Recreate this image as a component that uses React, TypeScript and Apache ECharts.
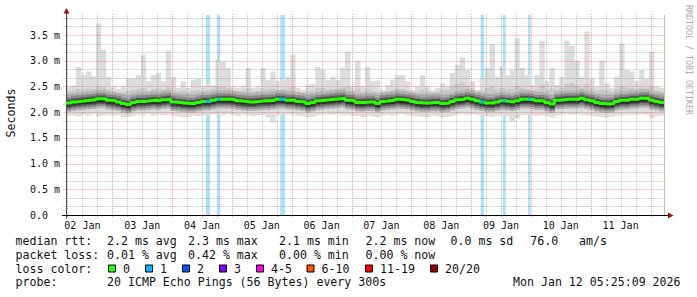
import React, { useEffect, useRef } from 'react';
import * as echarts from 'echarts';

// ---------- data (hours counted from 02 Jan 00:00) ----------
const START_HOUR = 5 + 25 / 60; // 02 Jan 05:25
const SPAN_HOURS = 240;
const BUCKET_HOURS = 2;
const Y_MAX = 3.89;

const medianMs = [
  2.18, 2.20, 2.21, 2.22, 2.23, 2.24, 2.26, 2.26, 2.23, 2.22,
  2.20, 2.17, 2.15, 2.19, 2.21, 2.21, 2.22, 2.23, 2.22, 2.24,
  2.25, 2.20, 2.19, 2.18, 2.17, 2.17, 2.19, 2.21, 2.21, 2.23,
  2.25, 2.25, 2.25, 2.24, 2.22, 2.21, 2.20, 2.20, 2.21, 2.22,
  2.22, 2.23, 2.25, 2.25, 2.23, 2.23, 2.21, 2.20, 2.17, 2.19,
  2.22, 2.23, 2.24, 2.25, 2.26, 2.27, 2.23, 2.22, 2.19, 2.19,
  2.20, 2.20, 2.17, 2.21, 2.22, 2.23, 2.25, 2.24, 2.23, 2.21,
  2.19, 2.18, 2.18, 2.19, 2.19, 2.17, 2.18, 2.21, 2.24, 2.25,
  2.27, 2.25, 2.22, 2.20, 2.18, 2.18, 2.20, 2.22, 2.21, 2.20,
  2.22, 2.25, 2.25, 2.24, 2.22, 2.22, 2.19, 2.16, 2.23, 2.24,
  2.25, 2.25, 2.25, 2.27, 2.24, 2.22, 2.19, 2.17, 2.16, 2.17,
  2.21, 2.23, 2.23, 2.25, 2.25, 2.27, 2.27, 2.23, 2.21, 2.19,
];

const maxMs = [
  2.50, 2.52, 2.88, 2.72, 2.79, 2.70, 3.73, 3.21, 2.69, 2.50,
  2.45, 2.50, 2.66, 2.66, 2.72, 3.12, 2.60, 2.72, 2.76, 2.60,
  3.20, 2.69, 2.47, 2.60, 2.47, 2.63, 2.66, 2.50, 2.56, 2.52,
  3.02, 2.98, 2.86, 2.50, 2.47, 2.50, 2.86, 2.47, 2.50, 2.86,
  2.63, 2.79, 2.60, 2.66, 2.69, 3.12, 2.47, 2.43, 2.53, 2.55,
  2.88, 2.82, 2.63, 2.69, 2.63, 2.86, 3.18, 2.50, 3.00, 2.50,
  2.88, 2.60, 2.62, 2.43, 2.53, 2.63, 2.72, 2.72, 2.60, 2.43,
  2.50, 2.72, 2.50, 2.43, 2.47, 2.56, 2.50, 2.76, 2.92, 3.07,
  2.82, 2.60, 2.43, 2.66, 2.86, 3.33, 2.69, 2.88, 2.72, 2.82,
  3.44, 2.86, 2.72, 2.53, 2.72, 3.39, 2.60, 2.86, 2.53, 2.69,
  3.39, 3.29, 3.00, 2.69, 3.57, 2.66, 2.50, 3.00, 2.56, 2.47,
  2.69, 3.34, 2.82, 2.79, 2.60, 2.82, 2.66, 3.18, 2.50, 2.47,
];

const p90Ms = [
  2.40, 2.42, 2.45, 2.44, 2.46, 2.45, 2.50, 2.48, 2.44, 2.40,
  2.38, 2.39, 2.42, 2.43, 2.45, 2.47, 2.42, 2.45, 2.46, 2.44,
  2.48, 2.44, 2.40, 2.42, 2.39, 2.42, 2.43, 2.41, 2.44, 2.45,
  2.50, 2.49, 2.47, 2.43, 2.41, 2.42, 2.46, 2.40, 2.41, 2.46,
  2.44, 2.46, 2.43, 2.45, 2.46, 2.49, 2.40, 2.38, 2.41, 2.42,
  2.47, 2.47, 2.44, 2.45, 2.45, 2.48, 2.50, 2.42, 2.46, 2.40,
  2.44, 2.41, 2.40, 2.38, 2.41, 2.43, 2.46, 2.45, 2.42, 2.38,
  2.40, 2.44, 2.41, 2.39, 2.40, 2.43, 2.44, 2.50, 2.55, 2.58,
  2.52, 2.46, 2.40, 2.43, 2.47, 2.50, 2.44, 2.47, 2.45, 2.46,
  2.52, 2.48, 2.45, 2.42, 2.45, 2.52, 2.43, 2.46, 2.44, 2.48,
  2.55, 2.56, 2.52, 2.47, 2.54, 2.46, 2.42, 2.45, 2.43, 2.40,
  2.45, 2.50, 2.48, 2.47, 2.45, 2.48, 2.46, 2.50, 2.42, 2.40,
];

const p10Ms = [
  2.04, 2.04, 2.05, 2.05, 2.06, 2.06, 2.07, 2.07, 2.05, 2.04,
  2.03, 2.01, 2.00, 2.03, 2.05, 2.05, 2.06, 2.06, 2.06, 2.07,
  2.07, 2.04, 2.03, 2.02, 2.01, 2.01, 2.03, 2.04, 2.05, 2.06,
  2.07, 2.07, 2.07, 2.06, 2.05, 2.04, 2.04, 2.04, 2.05, 2.05,
  2.05, 2.06, 2.07, 2.07, 2.06, 2.06, 2.05, 2.04, 2.01, 2.03,
  2.05, 2.06, 2.07, 2.07, 2.08, 2.08, 2.06, 2.05, 2.03, 2.03,
  2.04, 2.04, 2.01, 2.05, 2.05, 2.06, 2.07, 2.07, 2.06, 2.05,
  2.03, 2.02, 2.02, 2.03, 2.03, 2.01, 2.02, 2.04, 2.06, 2.07,
  2.08, 2.07, 2.05, 2.04, 2.02, 2.02, 2.04, 2.05, 2.05, 2.04,
  2.05, 2.06, 2.07, 2.06, 2.05, 2.05, 2.03, 2.00, 2.06, 2.07,
  2.07, 2.08, 2.08, 2.08, 2.07, 2.05, 2.03, 2.01, 2.00, 2.01,
  2.04, 2.05, 2.06, 2.07, 2.07, 2.08, 2.08, 2.06, 2.04, 2.03,
];

const minMs = [
  1.93, 1.94, 1.92, 1.95, 1.93, 1.96, 1.92, 1.94, 1.95, 1.93,
  1.94, 1.90, 1.91, 1.93, 1.95, 1.94, 1.96, 1.93, 1.95, 1.94,
  1.95, 1.93, 1.92, 1.90, 1.91, 1.93, 1.92, 1.94, 1.95, 1.96,
  1.95, 1.94, 1.96, 1.95, 1.93, 1.95, 1.94, 1.92, 1.94, 1.95,
  1.90, 1.80, 1.94, 1.95, 1.96, 1.95, 1.93, 1.92, 1.90, 1.91,
  1.94, 1.95, 1.96, 1.95, 1.96, 1.94, 1.95, 1.93, 1.92, 1.90,
  1.93, 1.92, 1.90, 1.94, 1.95, 1.93, 1.95, 1.96, 1.94, 1.93,
  1.92, 1.91, 1.90, 1.93, 1.92, 1.90, 1.91, 1.93, 1.95, 1.96,
  1.95, 1.96, 1.94, 1.93, 1.92, 1.91, 1.93, 1.94, 1.92, 1.82,
  1.88, 1.94, 1.95, 1.94, 1.93, 1.94, 1.92, 1.90, 1.94, 1.95,
  1.96, 1.95, 1.96, 1.95, 1.94, 1.93, 1.92, 1.90, 1.89, 1.91,
  1.93, 1.94, 1.95, 1.94, 1.95, 1.96, 1.95, 1.88, 1.92, 1.93,
];

// loss events: start hour, end hour, lost pings
const lossStartHours = [61.6, 66.2, 91.4, 171.8, 180.8, 190.8];
const lossEndHours = [63.2, 67.3, 93.3, 173.2, 181.9, 191.9];
const lossCounts = [1, 1, 1, 1, 1, 1];

const dayLabelHours = [12, 36, 60, 84, 108, 132, 156, 180, 204, 228];
const dayLabels = ['02 Jan', '03 Jan', '04 Jan', '05 Jan', '06 Jan', '07 Jan', '08 Jan', '09 Jan', '10 Jan', '11 Jan'];
const yTickValues = [0, 0.5, 1.0, 1.5, 2.0, 2.5, 3.0, 3.5];
const yTickLabels = ['0.0', '0.5 m', '1.0 m', '1.5 m', '2.0 m', '2.5 m', '3.0 m', '3.5 m'];

const rttStats = ['2.2 ms avg', '2.3 ms max', '2.1 ms min', '2.2 ms now', '0.0 ms sd', '76.0', 'am/s'];
const lossStats = ['0.01 % avg', '0.42 % max', '0.00 % min', '0.00 % now'];
const lossLegendLabels = ['0', '1', '2', '3', '4-5', '6-10', '11-19', '20/20'];
const lossLegendColors = ['#26ff00', '#00b8ff', '#0059ff', '#7e00ff', '#ff00ff', '#ff5500', '#ff0000', '#a10000'];
const probeText = '20 ICMP Echo Pings (56 Bytes) every 300s';
const dateText = 'Mon Jan 12 05:25:09 2026';

// ---------- layout / style ----------
const FONT = 'DejaVu Sans Mono';
const TEXT = '#111111';
const rowY = [241, 254.8, 268.6, 282.4];
const rttCols = [107, 188, 279, 365.5, 450.5, 530.2, 579];
const lossCols = [107, 188, 279, 365.5];
const boxXs = [108.5, 145.5, 182.5, 219.5, 256.5, 307, 365.5, 430.5];
const BOX_LABEL_GAP = 14.6;
const MAJ = 'rgba(255,0,0,0.38)';
const MIN = 'rgba(110,110,110,0.42)';
const MAJ_H = 'rgba(255,0,0,0.19)';
const MIN_H = 'rgba(110,110,110,0.21)';
const MINOR_PER_MS = 6;

function bucketData(lo: number[], hi: number[]) {
  return lo.map((l, k) => [START_HOUR + k * BUCKET_HOURS, START_HOUR + (k + 1) * BUCKET_HOURS, l, hi[k]]);
}

function bandSeries(lo: number[], hi: number[], color: string, z: number) {
  return {
    type: 'custom',
    z,
    silent: true,
    clip: true,
    encode: { x: [0, 1], y: [2, 3] },
    data: bucketData(lo, hi),
    renderItem: (_p: any, api: any) => {
      const a = api.coord([api.value(0), api.value(3)]);
      const b = api.coord([api.value(1), api.value(2)]);
      return {
        type: 'rect',
        shape: { x: a[0], y: a[1], width: b[0] - a[0] + 0.4, height: b[1] - a[1] },
        style: { fill: color },
      };
    },
  };
}

function haloSeries(up: number, down: number, color: string, z: number) {
  return {
    type: 'custom',
    z,
    silent: true,
    clip: true,
    encode: { x: [0, 1], y: [2] },
    data: medianMs.map((m, k) => [START_HOUR + k * BUCKET_HOURS, START_HOUR + (k + 1) * BUCKET_HOURS, m]),
    renderItem: (_p: any, api: any) => {
      const a = api.coord([api.value(0), api.value(2)]);
      const b = api.coord([api.value(1), api.value(2)]);
      return {
        type: 'rect',
        shape: { x: a[0], y: a[1] - up, width: b[0] - a[0] + 0.4, height: up + down },
        style: { fill: color },
      };
    },
  };
}

function medianAt(h: number) {
  const k = Math.min(medianMs.length - 1, Math.max(0, Math.floor((h - START_HOUR) / BUCKET_HOURS)));
  return medianMs[k];
}

function buildOption() {
  const lossData = lossStartHours.map((s, i) => [s, lossEndHours[i], lossCounts[i], medianAt((s + lossEndHours[i]) / 2)]);
  const medianLine = medianMs.map((m, k) => [START_HOUR + k * BUCKET_HOURS, m]);
  medianLine.push([START_HOUR + SPAN_HOURS, medianMs[medianMs.length - 1]]);

  const graphics: any[] = [];
  const txt = (text: string, x: number, y: number, extra: any = {}) => ({
    type: 'text',
    x,
    y,
    silent: true,
    ...extra.el,
    style: { text, fill: TEXT, fontFamily: FONT, fontSize: 11.6, align: 'left', verticalAlign: 'middle', ...extra.style },
  });
  graphics.push(txt('Seconds', 11, 113, { el: { rotation: Math.PI / 2 }, style: { align: 'center' } }));
  graphics.push(txt('RRDTOOL / TOBI OETIKER', 689, 5, { el: { rotation: -Math.PI / 2 }, style: { fontSize: 8.3, fill: '#aaaaaa' } }));
  graphics.push(txt('median rtt:', 15.5, rowY[0]));
  rttStats.forEach((s, i) => graphics.push(txt(s, rttCols[i], rowY[0])));
  graphics.push(txt('packet loss:', 15.5, rowY[1]));
  lossStats.forEach((s, i) => graphics.push(txt(s, lossCols[i], rowY[1])));
  graphics.push(txt('loss color:', 15.5, rowY[2]));
  lossLegendLabels.forEach((s, i) => {
    graphics.push({
      type: 'rect',
      silent: true,
      shape: { x: boxXs[i], y: rowY[2] - 3.6, width: 7, height: 7 },
      style: { fill: lossLegendColors[i], stroke: '#000', lineWidth: 1 },
    });
    graphics.push(txt(s, boxXs[i] + BOX_LABEL_GAP, rowY[2]));
  });
  graphics.push(txt('probe:', 15.5, rowY[3]));
  graphics.push(txt(probeText, 107, rowY[3]));
  graphics.push(txt(dateText, 513, rowY[3]));

  return {
    animation: false,
    backgroundColor: '#ffffff',
    grid: { left: 66, right: 33, top: 15, bottom: 82, containLabel: false },
    xAxis: {
      type: 'value',
      min: START_HOUR,
      max: START_HOUR + SPAN_HOURS,
      axisLine: { show: false },
      axisTick: { show: false },
      splitLine: { show: false },
      axisLabel: {
        customValues: dayLabelHours,
        formatter: (v: number) => {
          const i = dayLabelHours.findIndex((h) => Math.abs(h - v) < 1e-6);
          return i < 0 ? '' : dayLabels[i];
        },
        fontFamily: FONT,
        fontSize: 10,
        color: TEXT,
        margin: 5,
      },
    },
    yAxis: {
      type: 'value',
      min: 0,
      max: Y_MAX,
      interval: 0.5,
      axisLine: { show: false },
      axisTick: { show: false },
      splitLine: { show: false },
      axisLabel: {
        formatter: (v: number) => {
          const i = yTickValues.findIndex((t) => Math.abs(t - v) < 1e-6);
          if (i < 0) return '';
          return i === 0 ? `{z|${yTickLabels[i]}}` : yTickLabels[i];
        },
        rich: { z: { padding: [0, 12, 0, 0], fontFamily: FONT, fontSize: 10, color: TEXT } },
        fontFamily: FONT,
        fontSize: 10,
        color: TEXT,
        margin: 6,
      },
    },
    graphic: graphics,
    series: [
      {
        type: 'custom',
        z: 1,
        silent: true,
        clip: true,
        encode: { x: [0, 1], y: [2] },
        data: lossData,
        renderItem: (_p: any, api: any) => {
          const a = api.coord([api.value(0), Y_MAX]);
          const b = api.coord([api.value(1), 0]);
          return { type: 'rect', shape: { x: a[0], y: a[1], width: b[0] - a[0], height: b[1] - a[1] }, style: { fill: '#a9e4f9' } };
        },
      },
      bandSeries(minMs, maxMs, '#dddddd', 2),
      bandSeries(p10Ms, p90Ms, '#c9c9c9', 3),
      haloSeries(9, 9, '#b2b2b2', 4),
      haloSeries(6, 7, '#8a8a8a', 5),
      haloSeries(3.5, 5, '#555555', 6),
      haloSeries(1.5, 3.5, '#2e2e2e', 7),
      {
        type: 'custom',
        z: 10,
        silent: true,
        clip: false,
        encode: { x: 0, y: 1 },
        data: [[START_HOUR, 0]],
        renderItem: (_p: any, api: any) => {
          const children: any[] = [];
          const [xL, yB] = api.coord([START_HOUR, 0]);
          const [xR, yT] = api.coord([START_HOUR + SPAN_HOURS, Y_MAX]);
          const c = (v: number) => Math.round(v) + 0.5;
          for (let i = 1; i / MINOR_PER_MS <= Y_MAX; i++) {
            const y = Math.round(api.coord([START_HOUR, i / MINOR_PER_MS])[1]);
            children.push({
              type: 'rect',
              shape: { x: Math.round(xL) - 3, y, width: Math.round(xR) - Math.round(xL) + 3, height: 1 },
              style: { fill: i % 3 === 0 ? MAJ_H : MIN_H },
            });
          }
          for (let h = Math.ceil(START_HOUR / 6) * 6; h <= START_HOUR + SPAN_HOURS; h += 6) {
            const x = c(api.coord([h, 0])[0]);
            children.push({
              type: 'line',
              shape: { x1: x, y1: yT - 1, x2: x, y2: yB + 3 },
              style: { stroke: h % 24 === 0 ? MAJ : MIN, lineWidth: 1, lineDash: [1, 1] },
            });
          }
          const xr = c(xR);
          children.push({ type: 'line', shape: { x1: xr, y1: yT, x2: xr, y2: yB }, style: { stroke: '#c2c2a6', lineWidth: 1 } });
          const xa = c(xL);
          const ya = c(yB);
          children.push({ type: 'line', shape: { x1: xa, y1: yB + 4, x2: xa, y2: yT - 3 }, style: { stroke: '#4a4a4a', lineWidth: 1 } });
          children.push({ type: 'line', shape: { x1: xL - 4, y1: ya, x2: xR + 5, y2: ya }, style: { stroke: '#000000', lineWidth: 1 } });
          children.push({
            type: 'polygon',
            shape: { points: [[xa - 3, yT - 1.5], [xa + 3, yT - 1.5], [xa, yT - 7]] },
            style: { fill: '#a01010' },
          });
          children.push({
            type: 'polygon',
            shape: { points: [[xR + 4, ya - 3], [xR + 4, ya + 3], [xR + 9.5, ya]] },
            style: { fill: '#a01010' },
          });
          return { type: 'group', children };
        },
      },
      {
        type: 'line',
        z: 11,
        silent: true,
        step: 'end',
        symbol: 'none',
        data: medianLine,
        lineStyle: { color: '#26ff00', width: 3 },
      },
      {
        type: 'custom',
        z: 12,
        silent: true,
        clip: true,
        encode: { x: [0, 1], y: [3] },
        data: lossData,
        renderItem: (_p: any, api: any) => {
          const a = api.coord([api.value(0), api.value(3)]);
          const b = api.coord([api.value(1), api.value(3)]);
          return { type: 'rect', shape: { x: a[0], y: a[1] - 1.5, width: b[0] - a[0], height: 3 }, style: { fill: '#00b8ff' } };
        },
      },
    ],
  };
}

export default function App() {
  const ref = useRef<HTMLDivElement>(null);
  useEffect(() => {
    const chart = echarts.init(ref.current as HTMLDivElement, null, { renderer: 'svg' });
    chart.setOption(buildOption() as any);
    return () => chart.dispose();
  }, []);
  return (
    <div
      ref={ref}
      style={{ position: 'fixed', left: 0, top: 0, width: 697, height: 297, background: '#ffffff' }}
    />
  );
}
